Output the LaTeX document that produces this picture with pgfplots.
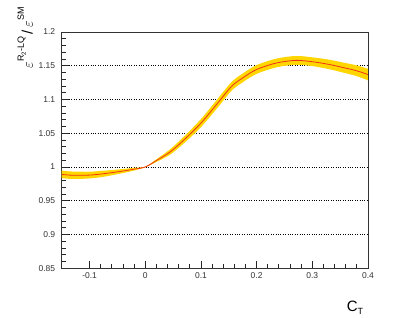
\documentclass[border=0pt]{standalone}
\usepackage{fontspec}
\setmainfont{Liberation Sans}
\usepackage{pgfplots}
\pgfplotsset{compat=1.18}
\usepgfplotslibrary{fillbetween}
\usetikzlibrary{calc}
\definecolor{bandyellow}{RGB}{255,214,0}
\definecolor{linered}{RGB}{240,50,25}

\pgfplotstableread{
x      y       lo      hi
-0.15  0.9890  0.9835  0.9945
-0.13  0.9877  0.9822  0.9932
-0.10  0.9880  0.9830  0.9930
-0.075 0.9900  0.9855  0.9945
-0.04  0.9940  0.9910  0.9970
-0.02  0.9968  0.9948  0.9988
0.00   1.0000  0.9995  1.0005
0.02   1.0095  1.0075  1.0115
0.045  1.0225  1.0185  1.0265
0.07   1.0405  1.0355  1.0455
0.10   1.0650  1.0590  1.0710
0.13   1.0945  1.0880  1.1010
0.155  1.1195  1.1130  1.1260
0.175  1.1320  1.1255  1.1385
0.20   1.1445  1.1380  1.1510
0.235  1.1540  1.1475  1.1605
0.27   1.1580  1.1515  1.1645
0.30   1.1560  1.1495  1.1625
0.33   1.1520  1.1450  1.1590
0.36   1.1465  1.1390  1.1540
0.38   1.1425  1.1345  1.1505
0.40   1.1370  1.1285  1.1455
}\ratio

\begin{document}
\begin{tikzpicture}
\begin{axis}[
  scale only axis,
  width=306pt, height=236pt,
  xmin=-0.15, xmax=0.4,
  ymin=0.85, ymax=1.2,
  xtick={-0.1,0,0.1,0.2,0.3,0.4},
  ytick={0.85,0.9,0.95,1,1.05,1.1,1.15,1.2},
  minor x tick num=4,
  minor y tick num=4,
  tick align=inside,
  xtick pos=bottom, ytick pos=left,
  major tick length=7pt, minor tick length=4pt,
  tick style={black!85, line width=0.8pt},
  axis line style={black!80, line width=0.9pt},
  ymajorgrids=true,
  grid style={black, dotted, line width=0.8pt},
  /pgf/number format/assume math mode=true,
  /pgf/number format/fixed,
  ticklabel style={font=\fontsize{8.5}{10}\selectfont, text=black!80},
  xticklabel style={yshift=-1pt},
  yticklabel style={xshift=-3pt},
  xlabel={C\raisebox{-0.35ex}{\fontsize{9}{10}\selectfont T}},
  xlabel style={font=\fontsize{15}{17}\selectfont, at={(axis description cs:0.985,-0.14)}, anchor=north east, inner sep=0pt},
  ylabel={$\varepsilon$\raisebox{1.1ex}{\fontsize{9}{10}\selectfont R\raisebox{-0.4ex}{\fontsize{6}{7}\selectfont 2}-LQ}\,/\,$\varepsilon$\raisebox{1.1ex}{\fontsize{9}{10}\selectfont SM}},
  ylabel style={font=\fontsize{15}{17}\selectfont, at={(axis description cs:-0.094,1.105)}, anchor=south east, inner sep=0pt},
  clip=true,
]
\addplot[name path=hi, draw=none, smooth] table[x=x, y=hi] {\ratio};
\addplot[name path=lo, draw=none, smooth] table[x=x, y=lo] {\ratio};
\addplot[bandyellow, draw=none] fill between[of=hi and lo];
\addplot[linered, line width=0.8pt, smooth] table[x=x, y=y] {\ratio};
\end{axis}
\path ($(current axis.south west)+(-61.7pt,-49pt)$) rectangle ($(current axis.north east)+(41pt,32pt)$);
\end{tikzpicture}
\end{document}
